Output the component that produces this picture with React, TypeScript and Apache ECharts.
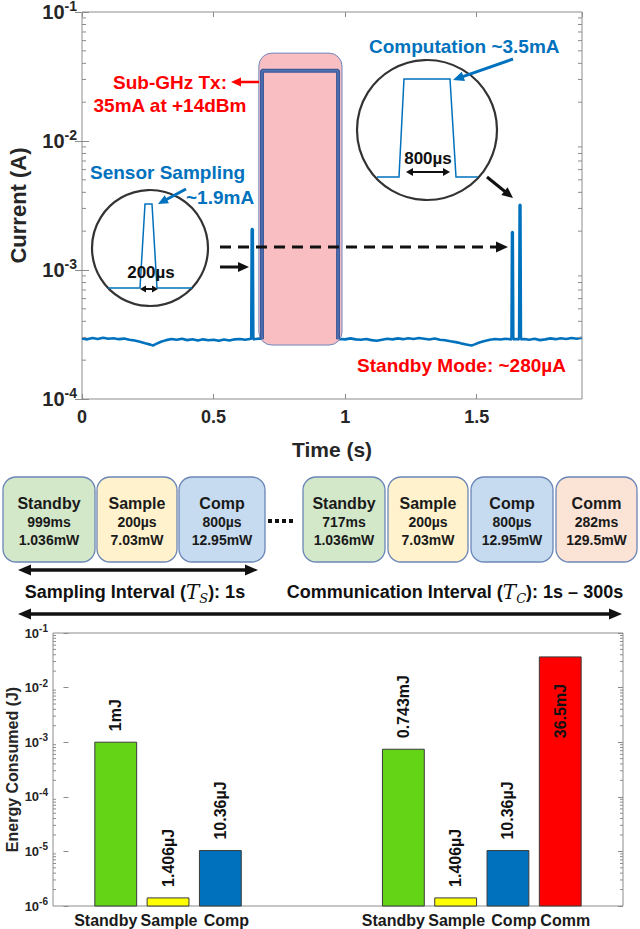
import React, { useEffect, useRef } from 'react';
import * as echarts from 'echarts';

const FONT = '"Liberation Sans", Arial, Helvetica, sans-serif';
const SERIF = '"DejaVu Serif", "Liberation Serif", serif';
const TXT = '#262626';
const AXIS = '#8c8c8c';
const BLUE = '#0072BD';
const RED = '#FF0000';

// ---------------- Top panel: current trace ----------------
const TOP_X_MIN = 0;
const TOP_X_MAX = 1.9;
const TOP_X_STEP = 0.5;
const TOP_Y_MIN = 1e-4;
const TOP_Y_MAX = 1e-1;
const TOP_DECADES = [-4, -3, -2];
const BOTTOM_DECADES = [-6, -5, -4, -3, -2];
const MINOR_MULT = [2, 3, 4, 5, 6, 7, 8, 9];

// [time (s), current (A)]
const CURRENT_TRACE: [number, number][] = [
  [0.0, 2.95e-4], [0.02, 2.9e-4], [0.04, 2.97e-4], [0.06, 2.92e-4], [0.08, 2.98e-4],
  [0.1, 2.93e-4], [0.12, 2.96e-4], [0.14, 2.91e-4], [0.16, 2.94e-4], [0.18, 2.88e-4],
  [0.2, 2.84e-4], [0.22, 2.78e-4], [0.24, 2.7e-4], [0.26, 2.64e-4], [0.27, 2.6e-4],
  [0.28, 2.66e-4], [0.3, 2.78e-4], [0.32, 2.86e-4], [0.34, 2.92e-4], [0.36, 2.88e-4],
  [0.38, 2.93e-4], [0.4, 2.86e-4], [0.42, 2.91e-4], [0.44, 2.84e-4], [0.46, 2.9e-4],
  [0.48, 2.85e-4], [0.5, 2.88e-4], [0.52, 2.83e-4], [0.54, 2.89e-4], [0.56, 2.84e-4],
  [0.58, 2.9e-4], [0.6, 2.92e-4], [0.62, 2.88e-4], [0.643, 2.93e-4], [0.645, 2.08e-3],
  [0.649, 2.08e-3], [0.651, 2.9e-4], [0.66, 2.92e-4], [0.68, 2.95e-4], [0.7, 2.9e-4],
  [0.8, 2.9e-4], [0.9, 2.9e-4], [0.98, 2.92e-4], [1.0, 2.9e-4], [1.02, 2.95e-4],
  [1.04, 2.9e-4], [1.06, 2.88e-4], [1.08, 2.92e-4], [1.1, 2.86e-4], [1.12, 2.83e-4],
  [1.14, 2.88e-4], [1.16, 2.93e-4], [1.18, 2.9e-4], [1.2, 2.95e-4], [1.22, 2.91e-4],
  [1.24, 2.96e-4], [1.26, 2.92e-4], [1.28, 2.97e-4], [1.3, 2.93e-4], [1.32, 2.89e-4],
  [1.34, 2.94e-4], [1.36, 2.88e-4], [1.38, 2.85e-4], [1.4, 2.8e-4], [1.42, 2.76e-4],
  [1.44, 2.7e-4], [1.46, 2.65e-4], [1.48, 2.6e-4], [1.49, 2.64e-4], [1.51, 2.74e-4],
  [1.53, 2.82e-4], [1.55, 2.88e-4], [1.57, 2.92e-4], [1.59, 2.89e-4], [1.61, 2.93e-4],
  [1.632, 2.9e-4], [1.634, 1.97e-3], [1.637, 1.97e-3], [1.639, 2.9e-4], [1.65, 2.92e-4],
  [1.661, 2.9e-4], [1.663, 3.2e-3], [1.666, 3.2e-3], [1.668, 2.9e-4], [1.68, 2.92e-4],
  [1.7, 2.88e-4], [1.72, 2.93e-4], [1.74, 2.86e-4], [1.76, 2.9e-4], [1.78, 2.95e-4],
  [1.8, 2.91e-4], [1.82, 2.96e-4], [1.84, 2.92e-4], [1.86, 2.97e-4], [1.88, 2.93e-4],
  [1.9, 2.98e-4],
];

// Sub-GHz Tx burst (35 mA)
const TX_BURST: [number, number][] = [
  [0.684, 2.9e-4], [0.684, 3.5e-2], [0.973, 3.5e-2], [0.973, 2.9e-4],
];
// highlighted Tx window: [tStart, iLow, tEnd, iHigh]
const TX_WINDOW = [0.672, 2.62e-4, 0.988, 4.8e-2];

// ---------------- Middle: timeline blocks ----------------
const BLOCK_NAMES = ['Standby', 'Sample', 'Comp', 'Standby', 'Sample', 'Comp', 'Comm'];
const BLOCK_TIMES = ['999ms', '200µs', '800µs', '717ms', '200µs', '800µs', '282ms'];
const BLOCK_POWERS = ['1.036mW', '7.03mW', '12.95mW', '1.036mW', '7.03mW', '12.95mW', '129.5mW'];

// ---------------- Bottom panel: energy ----------------
const BAR_POS = [1, 2, 3, 6.5, 7.5, 8.5, 9.5];
const BAR_NAMES = ['Standby', 'Sample', 'Comp', 'Standby', 'Sample', 'Comp', 'Comm'];
const BAR_ENERGY_J = [1e-3, 1.406e-6, 10.36e-6, 0.743e-3, 1.406e-6, 10.36e-6, 36.5e-3];
const BAR_LABELS = ['1mJ', '1.406µJ', '10.36µJ', '0.743mJ', '1.406µJ', '10.36µJ', '36.5mJ'];
const BOT_Y_MIN = 1e-6;
const BOT_Y_MAX = 1e-1;

// ---------------- styles / layout ----------------
const BLOCK_LAYOUT_X = [3, 97, 179, 303, 388, 471, 556];
const BLOCK_LAYOUT_W = [92, 80, 86, 82, 80, 82, 81];
const BLOCK_FILL: Record<string, string> = {
  Standby: '#d3e7c9', Sample: '#fff2cc', Comp: '#c6dbf0', Comm: '#fbe3d5',
};
const BAR_FILL: Record<string, string> = {
  Standby: '#64d416', Sample: '#ffff00', Comp: '#0072bd', Comm: '#ff0000',
};
const BAR_NAME_DX: Record<string, number> = { Standby: -10, Sample: 1, Comp: 6, Comm: 5 };

function minorValues(decades: number[]) {
  const out: [number, number][] = [];
  decades.forEach((d) => MINOR_MULT.forEach((m) => out.push([0, Number((m * Math.pow(10, d)).toPrecision(3))])));
  return out;
}

function supRich(base: number, exp: number) {
  return {
    b: { fontSize: base, fontWeight: 'bold', fontFamily: FONT, color: TXT, lineHeight: base + 6 },
    e: { fontSize: exp, fontWeight: 'bold', fontFamily: FONT, color: TXT, lineHeight: exp, verticalAlign: 'top' },
  };
}
const expLabel = (v: number) => `{b|10}{e|${Math.round(Math.log10(v))}}`;

function arrow(
  x1: number, y1: number, x2: number, y2: number, color: string, width: number,
  head = 12, headW = 10, dash?: number[], both = false,
) {
  const a = Math.atan2(y2 - y1, x2 - x1);
  const c = Math.cos(a);
  const s = Math.sin(a);
  const tri = (tx: number, ty: number, dir: number) => {
    const cc = c * dir;
    const ss = s * dir;
    const bx = tx - cc * head;
    const by = ty - ss * head;
    return [[tx, ty], [bx - ss * headW / 2, by + cc * headW / 2], [bx + ss * headW / 2, by - cc * headW / 2]];
  };
  const sx = both ? x1 + c * head * 0.8 : x1;
  const sy = both ? y1 + s * head * 0.8 : y1;
  const ex = x2 - c * head * 0.8;
  const ey = y2 - s * head * 0.8;
  const els: any[] = [
    { type: 'line', z: 100, shape: { x1: sx, y1: sy, x2: ex, y2: ey }, style: { stroke: color, lineWidth: width, lineDash: dash || null } },
    { type: 'polygon', z: 100, shape: { points: tri(x2, y2, 1) }, style: { fill: color } },
  ];
  if (both) els.push({ type: 'polygon', z: 100, shape: { points: tri(x1, y1, -1) }, style: { fill: color } });
  return els;
}

function txt(text: string, x: number, y: number, size: number, color: string, align = 'left', weight = 'bold') {
  return {
    type: 'text', z: 100,
    style: {
      text, x, y, font: `${weight} ${size}px ${FONT}`, fill: color,
      align, verticalAlign: 'middle', textAlign: align, textVerticalAlign: 'middle',
    },
  };
}

function buildGraphics() {
  const g: any[] = [];
  // ----- top annotations -----
  g.push({ type: 'circle', z: 100, shape: { cx: 150, cy: 248, r: 58 }, style: { fill: 'rgba(0,0,0,0)', stroke: '#333', lineWidth: 2.2 } });
  g.push({ type: 'polyline', z: 100, shape: { points: [[108, 288], [140, 288], [145, 204], [152, 204], [157, 288], [192, 288]] }, style: { stroke: BLUE, lineWidth: 1.5, fill: null } });
  g.push(txt('200µs', 151, 272, 17, '#111', 'center'));
  g.push(...arrow(140, 289, 158, 289, '#111', 2, 6, 7, undefined, true));
  g.push(txt('Sensor Sampling', 90, 172, 19, BLUE));
  g.push(txt('~1.9mA', 186, 197, 19, BLUE));
  g.push(...arrow(186, 189, 158, 204, BLUE, 3, 10, 9));
  g.push(txt('Sub-GHz Tx:', 170, 82, 19, RED, 'center'));
  g.push(txt('35mA at +14dBm', 170, 105, 19, RED, 'center'));
  g.push(...arrow(259, 82, 231, 82, RED, 2.5, 10, 9));
  g.push(...arrow(220, 267, 249, 267, '#111', 3, 11, 10));
  g.push(...arrow(220, 247, 508, 247, '#111', 3, 12, 11, [11, 7]));

  g.push({ type: 'circle', z: 100, shape: { cx: 427, cy: 130, r: 70 }, style: { fill: 'rgba(0,0,0,0)', stroke: '#333', lineWidth: 2.2 } });
  g.push({ type: 'polyline', z: 100, shape: { points: [[377, 177], [399, 177], [404, 79], [450, 79], [456, 177], [478, 177]] }, style: { stroke: BLUE, lineWidth: 1.5, fill: null } });
  g.push(txt('800µs', 428, 158, 17, '#111', 'center'));
  g.push(...arrow(406, 172, 450, 172, '#111', 2, 7, 8, undefined, true));
  g.push(txt('Computation ~3.5mA', 369, 46, 19, BLUE));
  g.push(...arrow(513, 59, 453, 80, BLUE, 3, 11, 10));
  g.push(...arrow(487, 177, 513, 198, '#111', 3, 11, 10));
  g.push(txt('Standby Mode: ~280µA', 566, 365, 19, RED, 'right'));

  // ----- middle timeline -----
  BLOCK_NAMES.forEach((name, i) => {
    const x = BLOCK_LAYOUT_X[i];
    const w = BLOCK_LAYOUT_W[i];
    const cx = x + w / 2;
    g.push({ type: 'rect', z: 90, shape: { x, y: 477, width: w, height: 85, r: 13 }, style: { fill: BLOCK_FILL[name], stroke: '#6b86b6', lineWidth: 1.3 } });
    g.push(txt(name, cx, 503, 16, '#1a1a1a', 'center'));
    g.push(txt(BLOCK_TIMES[i], cx, 522, 14, '#1a1a1a', 'center'));
    g.push(txt(BLOCK_POWERS[i], cx, 540, 14, '#1a1a1a', 'center'));
  });
  [270, 277, 284, 291].forEach((x) => g.push({ type: 'rect', z: 100, shape: { x: x - 2, y: 519, width: 4, height: 4 }, style: { fill: '#111' } }));
  g.push(...arrow(18, 570, 258, 570, '#111', 3.5, 13, 11, undefined, true));

  const richInterval = {
    a: { fontSize: 18, fontWeight: 'bold', fontFamily: FONT, fill: '#111', color: '#111', lineHeight: 26 },
    t: { fontSize: 20, fontFamily: SERIF, fontStyle: 'italic', fill: '#111', color: '#111', lineHeight: 20 },
    s: { fontSize: 13, fontFamily: SERIF, fontStyle: 'italic', fill: '#111', color: '#111', lineHeight: 13, verticalAlign: 'bottom' },
  };
  g.push({
    type: 'text', z: 100,
    style: { text: '{a|Sampling Interval (}{t|T}{s|S}{a|): 1s}', rich: richInterval, x: 135, y: 592, align: 'center', verticalAlign: 'middle', textAlign: 'center', textVerticalAlign: 'middle' },
  });
  g.push({
    type: 'text', z: 100,
    style: { text: '{a|Communication Interval (}{t|T}{s|C}{a|): 1s – 300s}', rich: richInterval, x: 455, y: 592, align: 'center', verticalAlign: 'middle', textAlign: 'center', textVerticalAlign: 'middle' },
  });
  g.push(...arrow(18, 614, 622, 614, '#111', 3.5, 13, 11, undefined, true));
  return g;
}

function minorTickSeries(xAxisIndex: number, yAxisIndex: number, decades: number[], len: number) {
  return {
    type: 'custom', xAxisIndex, yAxisIndex, z: 6, silent: true,
    data: minorValues(decades),
    renderItem: (params: any, api: any) => {
      const cs = params.coordSys;
      const y = api.coord([api.value(0), api.value(1)])[1];
      const st = { stroke: AXIS, lineWidth: 1 };
      return {
        type: 'group',
        children: [
          { type: 'line', shape: { x1: cs.x, y1: y, x2: cs.x + len, y2: y }, style: st },
          { type: 'line', shape: { x1: cs.x + cs.width - len, y1: y, x2: cs.x + cs.width, y2: y }, style: st },
        ],
      };
    },
  };
}

export default function App() {
  const ref = useRef<HTMLDivElement>(null);
  useEffect(() => {
    if (!ref.current) return;
    const chart = echarts.init(ref.current, undefined, { renderer: 'svg' });
    const tickCommon = { inside: true, lineStyle: { color: AXIS, width: 1 } };
    const option: any = {
      animation: false,
      backgroundColor: '#fff',
      grid: [
        { left: 82, top: 12, width: 500, height: 387, show: true, borderColor: AXIS, borderWidth: 1, backgroundColor: 'transparent', containLabel: false, outerBoundsMode: 'none' },
        { left: 53, top: 633, width: 570, height: 273, show: true, borderColor: AXIS, borderWidth: 1, backgroundColor: 'transparent', containLabel: false, outerBoundsMode: 'none' },
      ],
      xAxis: [
        {
          gridIndex: 0, type: 'value', min: TOP_X_MIN, max: TOP_X_MAX, interval: TOP_X_STEP,
          axisLine: { show: false }, splitLine: { show: false },
          axisTick: { ...tickCommon, length: 5 },
          axisLabel: {
            showMaxLabel: false, margin: 9, color: TXT, fontSize: 18, fontWeight: 'bold', fontFamily: FONT,
            formatter: (v: number) => (Math.abs(v / TOP_X_STEP - Math.round(v / TOP_X_STEP)) < 1e-6 ? String(v) : ''),
          },
          name: 'Time (s)', nameLocation: 'middle', nameGap: 40, nameMoveOverlap: false,
          nameTextStyle: { color: TXT, fontSize: 21, fontWeight: 'bold', fontFamily: FONT },
        },
        {
          gridIndex: 0, type: 'value', position: 'top', min: TOP_X_MIN, max: TOP_X_MAX, interval: TOP_X_STEP,
          axisLine: { show: false }, splitLine: { show: false }, axisLabel: { show: false },
          axisTick: { ...tickCommon, length: 5 },
        },
        { gridIndex: 1, type: 'value', min: -0.2, max: 10.7, show: false },
      ],
      yAxis: [
        {
          gridIndex: 0, type: 'log', logBase: 10, min: TOP_Y_MIN, max: TOP_Y_MAX,
          axisLine: { show: false }, splitLine: { show: false },
          axisTick: { ...tickCommon, length: 7 },
          axisLabel: { margin: 5, formatter: expLabel, rich: supRich(20, 14) },
          name: 'Current (A)', nameLocation: 'middle', nameGap: 53, nameRotate: 90, nameMoveOverlap: false,
          nameTextStyle: { color: TXT, fontSize: 22, fontWeight: 'bold', fontFamily: FONT },
        },
        {
          gridIndex: 0, type: 'log', logBase: 10, min: TOP_Y_MIN, max: TOP_Y_MAX, position: 'right',
          axisLine: { show: false }, splitLine: { show: false }, axisLabel: { show: false },
          axisTick: { ...tickCommon, length: 7 },
        },
        {
          gridIndex: 1, type: 'log', logBase: 10, min: BOT_Y_MIN, max: BOT_Y_MAX,
          axisLine: { show: false }, splitLine: { show: false },
          axisTick: { ...tickCommon, length: 5 },
          axisLabel: { margin: 5, formatter: expLabel, rich: supRich(13, 10) },
          name: 'Energy Consumed (J)', nameLocation: 'middle', nameGap: 33, nameRotate: 90, nameMoveOverlap: false,
          nameTextStyle: { color: TXT, fontSize: 16, fontWeight: 'bold', fontFamily: FONT },
        },
        {
          gridIndex: 1, type: 'log', logBase: 10, min: BOT_Y_MIN, max: BOT_Y_MAX, position: 'right',
          axisLine: { show: false }, splitLine: { show: false }, axisLabel: { show: false },
          axisTick: { ...tickCommon, length: 5 },
        },
      ],
      series: [
        {
          type: 'line', xAxisIndex: 0, yAxisIndex: 0, z: 2, symbol: 'none', silent: true,
          data: CURRENT_TRACE, lineStyle: { color: BLUE, width: 2.6 },
        },
        {
          type: 'custom', xAxisIndex: 0, yAxisIndex: 0, z: 3, silent: true,
          data: [TX_WINDOW],
          renderItem: (params: any, api: any) => {
            const p0 = api.coord([api.value(0), api.value(3)]);
            const p1 = api.coord([api.value(2), api.value(1)]);
            return {
              type: 'rect',
              shape: { x: p0[0], y: p0[1], width: p1[0] - p0[0], height: p1[1] - p0[1], r: 13 },
              style: { fill: '#f8bec2', stroke: '#6f86bd', lineWidth: 1 },
            };
          },
        },
        {
          type: 'line', xAxisIndex: 0, yAxisIndex: 0, z: 4, symbol: 'none', silent: true,
          data: TX_BURST, lineStyle: { color: '#3e5997', width: 4 },
        },
        {
          type: 'line', xAxisIndex: 0, yAxisIndex: 0, z: 5, symbol: 'none', silent: true,
          data: TX_BURST, lineStyle: { color: '#5a7fc4', width: 1 },
        },
        minorTickSeries(0, 0, TOP_DECADES, 4),
        minorTickSeries(2, 2, BOTTOM_DECADES, 3),
        {
          type: 'custom', xAxisIndex: 2, yAxisIndex: 2, z: 4, silent: true,
          data: BAR_POS.map((x, i) => [x, BAR_ENERGY_J[i]]),
          renderItem: (params: any, api: any) => {
            const i = params.dataIndex;
            const name = BAR_NAMES[i];
            const x = api.value(0);
            const v = api.value(1);
            const tl = api.coord([x - 0.4, v]);
            const br = api.coord([x + 0.4, BOT_Y_MIN]);
            const cx = (tl[0] + br[0]) / 2;
            const inside = name === 'Comm';
            return {
              type: 'group',
              children: [
                {
                  type: 'rect',
                  shape: { x: tl[0], y: tl[1], width: br[0] - tl[0], height: br[1] - tl[1] },
                  style: { fill: BAR_FILL[name], stroke: '#3a3a3a', lineWidth: 1 },
                },
                {
                  type: 'text', x: cx, y: inside ? tl[1] + 27 : tl[1] - 11, rotation: Math.PI / 2,
                  style: {
                    text: BAR_LABELS[i], font: `bold 16px ${FONT}`, fill: '#111',
                    align: inside ? 'right' : 'left', verticalAlign: 'middle',
                  },
                },
                {
                  type: 'text', x: cx + BAR_NAME_DX[name], y: br[1] + 14,
                  style: { text: name, font: `bold 16px ${FONT}`, fill: '#1a1a1a', align: 'center', verticalAlign: 'middle' },
                },
              ],
            };
          },
        },
      ],
      graphic: { elements: buildGraphics() },
    };
    chart.setOption(option);
    return () => chart.dispose();
  }, []);
  return (
    <div
      ref={ref}
      style={{ position: 'fixed', left: 0, top: 0, width: 640, height: 929, background: '#fff' }}
    />
  );
}
